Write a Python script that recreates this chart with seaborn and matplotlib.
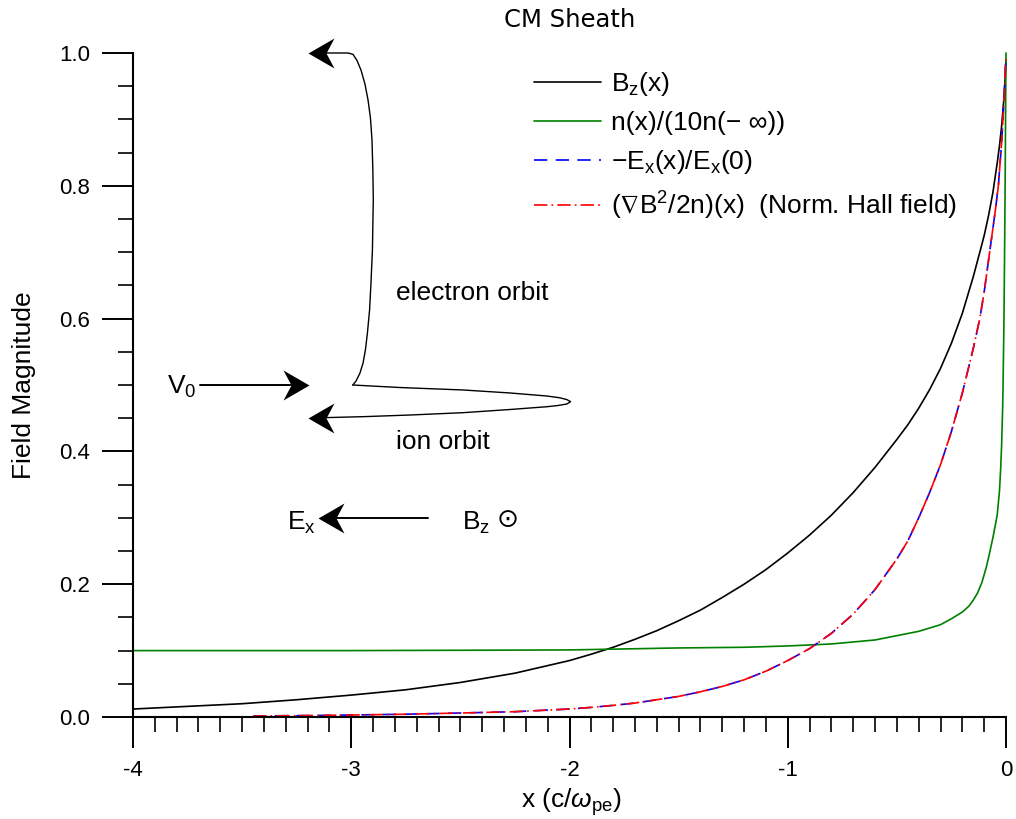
import numpy as np
import pandas as pd
import matplotlib
matplotlib.use("Agg")
import matplotlib.pyplot as plt
from matplotlib.path import Path
from matplotlib.ticker import MultipleLocator, FormatStrFormatter
import seaborn as sns

# ---- profiles across the current sheath (x in c/omega_pe) ----
bz_x = [-4.00, -3.75, -3.50, -3.25, -3.00, -2.75, -2.50, -2.25, -2.00, -1.90,
        -1.80, -1.70, -1.60, -1.50, -1.40, -1.30, -1.20, -1.10, -1.00, -0.90,
        -0.80, -0.70, -0.60, -0.50, -0.45, -0.40, -0.35, -0.30, -0.25, -0.20,
        -0.15, -0.12, -0.10, -0.08, -0.06, -0.04, -0.03, -0.02, -0.01, -0.005,
        0.00]
bz_y = [0.012, 0.016, 0.020, 0.026, 0.033, 0.041, 0.052, 0.066, 0.085, 0.0946,
        0.105, 0.117, 0.130, 0.145, 0.161, 0.180, 0.200, 0.222, 0.247, 0.274,
        0.304, 0.338, 0.376, 0.418, 0.440, 0.465, 0.493, 0.525, 0.563, 0.608,
        0.663, 0.700, 0.725, 0.755, 0.790, 0.835, 0.860, 0.890, 0.930, 0.955,
        0.990]

n_x = [-4.00, -3.00, -2.00, -1.50, -1.20, -1.00, -0.80, -0.60, -0.40, -0.30,
       -0.25, -0.20, -0.17, -0.15, -0.13, -0.11, -0.09, -0.08, -0.07, -0.06,
       -0.05, -0.04, -0.03, -0.025, -0.02, -0.015, -0.01, -0.007, -0.004,
       -0.002, 0.00]
n_y = [0.100, 0.100, 0.101, 0.104, 0.105, 0.107, 0.110, 0.116, 0.129, 0.139,
       0.148, 0.158, 0.167, 0.176, 0.187, 0.203, 0.226, 0.240, 0.255, 0.270,
       0.287, 0.305, 0.340, 0.370, 0.410, 0.470, 0.580, 0.680, 0.800,
       0.900, 1.000]

ex_x = [-3.45, -3.20, -3.00, -2.75, -2.50, -2.25, -2.00, -1.90, -1.80, -1.70,
        -1.60, -1.50, -1.40, -1.30, -1.20, -1.10, -1.00, -0.90, -0.80, -0.70,
        -0.60, -0.50, -0.45, -0.40, -0.35, -0.30, -0.25, -0.20, -0.15, -0.12,
        -0.10, -0.075, -0.05, -0.035, -0.02, -0.01, 0.00]
ex_y = [0.0015, 0.0022, 0.003, 0.0042, 0.006, 0.008, 0.012, 0.0145, 0.0175,
        0.021, 0.026, 0.031, 0.038, 0.046, 0.056, 0.069, 0.085, 0.103, 0.126,
        0.155, 0.192, 0.238, 0.265, 0.300, 0.338, 0.380, 0.430, 0.488, 0.555,
        0.600, 0.640, 0.700, 0.760, 0.800, 0.865, 0.925, 0.995]

# Hall field coincides with the normalised electric field
hall_x = list(ex_x)
hall_y = list(ex_y)

# ---- schematic particle orbits ----
electron_x = [-2.993, -2.978, -2.960, -2.946, -2.935, -2.926, -2.916, -2.910,
              -2.903, -2.899, -2.901, -2.905, -2.912, -2.923, -2.937, -2.955,
              -2.974, -2.992, -3.015, -3.15]
electron_y = [0.500, 0.506, 0.518, 0.533, 0.553, 0.578, 0.613, 0.651,
              0.703, 0.779, 0.824, 0.869, 0.902, 0.929, 0.953, 0.974,
              0.989, 0.998, 1.000, 1.000]
ion_x = [-2.993, -2.777, -2.488, -2.273, -2.103, -2.044, -2.012, -1.995,
         -2.012, -2.053, -2.103, -2.273, -2.488, -2.731, -2.946, -3.15]
ion_y = [0.500, 0.4962, 0.4925, 0.488, 0.4834, 0.4807, 0.478, 0.4749,
         0.4714, 0.4691, 0.4673, 0.4631, 0.4583, 0.4548, 0.4523, 0.4506]

legend_labels = [
    r"B$_{\rm z}$(x)",
    "n(x)/(10n(\u2212 \u221e))",
    r"$-$E$_{\rm x}$(x)/E$_{\rm x}$(0)",
    r"($\nabla$B$^{2}$/2n)(x)  (Norm. Hall field)",
]

sns.set_theme(style="white")
plt.rcParams.update({
    "font.family": ["Liberation Sans", "DejaVu Sans"],
    "mathtext.fontset": "custom",
    "mathtext.rm": "Liberation Sans",
    "mathtext.it": "Liberation Sans:italic",
    "mathtext.bf": "Liberation Sans:bold",
    "mathtext.fallback": "stixsans",
    "axes.unicode_minus": False,
    "text.color": "black",
    "axes.labelcolor": "black",
    "xtick.color": "black",
    "ytick.color": "black",
    "axes.edgecolor": "black",
})

W, H = 1016, 819
fig = plt.figure(figsize=(W / 100, H / 100), dpi=100)
ax = fig.add_axes([133 / W, 1 - 717 / H, 873 / W, 664 / H])

lw = 1.2
sns.lineplot(x=bz_x, y=bz_y, ax=ax, color="black", linewidth=lw,
             label=legend_labels[0], sort=False, estimator=None)
sns.lineplot(x=n_x, y=n_y, ax=ax, color="#008000", linewidth=lw,
             label=legend_labels[1], sort=False, estimator=None)
sns.lineplot(x=ex_x, y=ex_y, ax=ax, color="#0000ff", linewidth=lw,
             linestyle=(0, (8, 5)), label=legend_labels[2], sort=False,
             estimator=None)
sns.lineplot(x=hall_x, y=hall_y, ax=ax, color="#ff0000", linewidth=lw,
             linestyle=(0, (8, 2.5, 1, 2.5)), label=legend_labels[3],
             sort=False, estimator=None)
for ln in ax.lines:
    ln.set_clip_on(False)

# orbits
ax.plot(electron_x, electron_y, color="black", lw=1.0, clip_on=False)
ax.plot(ion_x, ion_y, color="black", lw=1.0, clip_on=False)

# notched arrowheads (tip at origin)
head_left = Path([(0, 0), (26, 15), (18, 0), (26, -15), (0, 0)],
                 [Path.MOVETO, Path.LINETO, Path.LINETO, Path.LINETO, Path.CLOSEPOLY])
head_right = Path([(0, 0), (-26, 15), (-18, 0), (-26, -15), (0, 0)],
                  [Path.MOVETO, Path.LINETO, Path.LINETO, Path.LINETO, Path.CLOSEPOLY])
ms = 37.4


def head(x, y, shape):
    ax.plot([x], [y], marker=shape, ms=ms, color="black", mew=0, ls="none",
            clip_on=False)


head(-3.198, 1.0, head_left)
head(-3.198, 0.4503, head_left)

# incoming flow V0
ax.plot([-3.693, -3.22], [0.50, 0.50], color="black", lw=1.4)
head(-3.194, 0.50, head_right)
ax.text(-3.844, 0.497, r"V$_{\rm 0}$", fontsize=19, ha="left", va="center")

# E_x and B_z directions
ax.plot([-2.648, -3.13], [0.2997, 0.2997], color="black", lw=1.4)
head(-3.152, 0.2997, head_left)
ax.text(-3.294, 0.293, r"E$_{\rm x}$", fontsize=19, ha="left", va="center")
ax.text(-2.493, 0.293, r"B$_{\rm z}$", fontsize=19, ha="left", va="center")
ax.text(-2.335, 0.297, "\u2299", fontsize=19, ha="left", va="center",
        family="DejaVu Sans")

ax.text(-2.795, 0.6386, "electron orbit", fontsize=19, ha="left", va="center")
ax.text(-2.795, 0.414, "ion orbit", fontsize=19, ha="left", va="center")

# axes styling
ax.set_xlim(-4, 0)
ax.set_ylim(0, 1)
for s in ("top", "right"):
    ax.spines[s].set_visible(False)
for s in ("left", "bottom"):
    ax.spines[s].set_linewidth(1.5)
    ax.spines[s].set_color("black")
ax.xaxis.set_major_locator(MultipleLocator(1))
ax.xaxis.set_minor_locator(MultipleLocator(0.1))
ax.yaxis.set_major_locator(MultipleLocator(0.2))
ax.yaxis.set_minor_locator(MultipleLocator(0.05))
ax.xaxis.set_major_formatter(FormatStrFormatter("%d"))
ax.yaxis.set_major_formatter(FormatStrFormatter("%.1f"))
ax.tick_params(which="major", direction="out", length=22, width=1.4,
               color="black", labelsize=16, pad=9, labelcolor="black")
ax.tick_params(which="minor", direction="out", length=11, width=1.2,
               color="black")
ax.tick_params(axis="both", which="both", bottom=True, left=True)

ax.set_xlabel(r"x (c/$\omega_{\rm pe}$)", fontsize=19, color="black")
ax.set_ylabel("Field Magnitude", fontsize=19, color="black")
ax.xaxis.set_label_coords(0.502, -0.105)
ax.yaxis.set_label_coords(-0.111, 0.5)

ax.set_title("CM Sheath", fontsize=17.5, family="DejaVu Sans", color="black",
             y=1.039, pad=0, va="baseline")

ax.legend(loc="upper left", bbox_to_anchor=(534 / W, 1 - 70 / H),
          bbox_transform=fig.transFigure, frameon=False, fontsize=19,
          borderpad=0, borderaxespad=0, handlelength=2.55,
          handletextpad=0.35, labelspacing=0.5)

fig.savefig("out.png", dpi=100, facecolor="white")
